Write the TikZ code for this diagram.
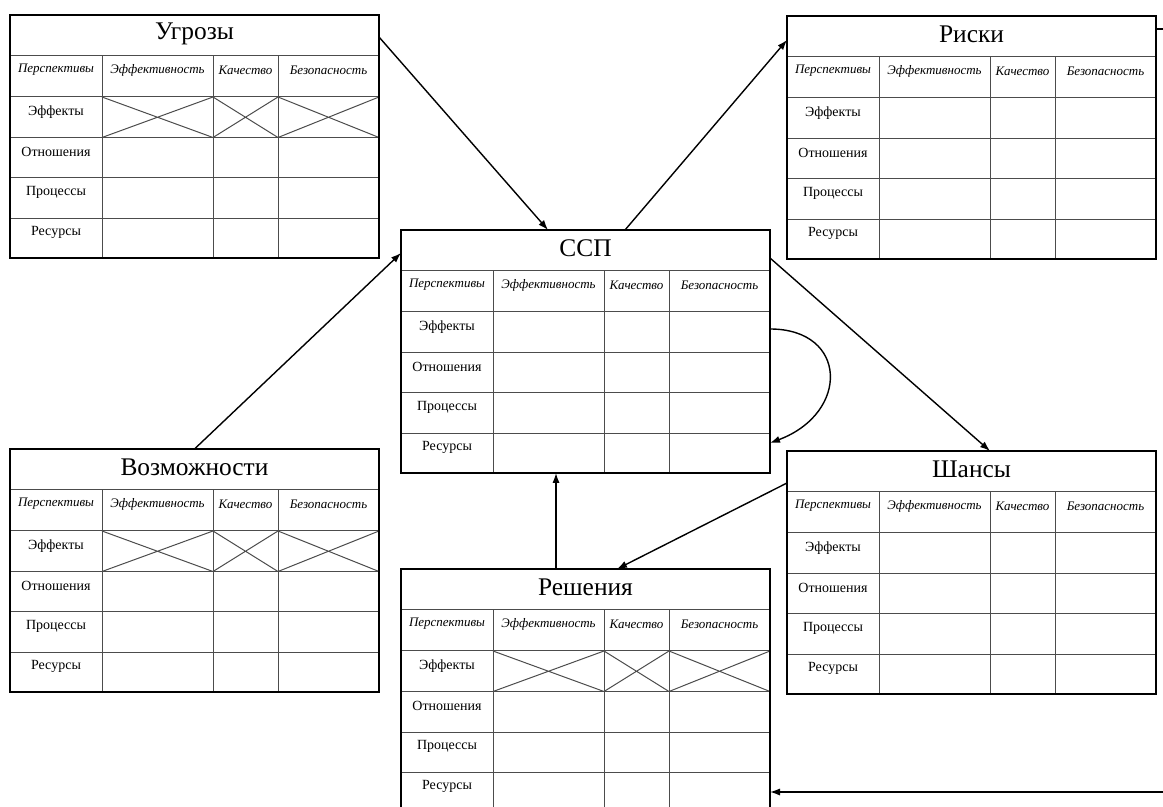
\documentclass[tikz,border=0pt]{standalone}
\usepackage{fontspec}
\setmainfont{Liberation Serif}
\usetikzlibrary{arrows.meta}

% one table: #1 name, #2 top left corner, #3 title, #4 crossed first row (1/0)
\newcommand{\bsctable}[4]{%
  \begin{scope}[shift={(#2)}]
    \node[tbl] (#1) at (0,0) {};
    \node[ttl] (#1-title) at (184.5,18.5) {#3};
    \foreach \y in {41,82,122.5,163,203.5} \draw[grid] (0,\y) -- (369,\y);
    \foreach \x in {92,203,268} \draw[grid] (\x,41) -- (\x,243);
    \foreach \x/\txt [count=\i] in {46/Перспективы,147.5/Эффективность,235.5/Качество,318.5/Безопасность}
      \node[hdr] (#1-h\i) at (\x,55) {\txt};
    \foreach \y/\txt [count=\i] in {97/Эффекты,137/Отношения,177/Процессы,217/Ресурсы}
      \node[lbl] (#1-r\i) at (46,\y) {\txt};
    \ifnum#4=1
      \foreach \a/\b in {92/203,203/268,268/369}
        \draw[grid] (\a,82) -- (\b,122.5) (\a,122.5) -- (\b,82);
    \fi
    \draw[line width=1pt] (#1.north west) rectangle (#1.south east);
  \end{scope}}

\begin{document}
\begin{tikzpicture}[x=0.5pt, y=-0.5pt, >={Latex[length=5pt,width=3.6pt]},
  tbl/.style={anchor=north west, minimum width=184.5pt, minimum height=121.5pt, inner sep=0pt, outer sep=0pt},
  ttl/.style={inner sep=0pt, font=\fontsize{12.7}{15}\selectfont},
  hdr/.style={inner sep=0pt, font=\fontsize{6.5}{8}\selectfont\itshape},
  lbl/.style={inner sep=0pt, font=\fontsize{7}{8.5}\selectfont},
  grid/.style={line width=0.5pt, black!70},
  link/.style={->, line width=0.7pt}]

  \useasboundingbox (0,0) rectangle (1163,807);

  % Tables
  \bsctable{ugrozy}{10,15}{Угрозы}{1}
  \bsctable{riski}{787,16}{Риски}{0}
  \bsctable{ssp}{401,230}{ССП}{0}
  \bsctable{vozm}{10,449}{Возможности}{1}
  \bsctable{shansy}{787,451}{Шансы}{0}
  \bsctable{resh}{401,569}{Решения}{1}

  % Connectors
  \draw[link] ([yshift=-11pt]ugrozy.north east) -- ([xshift=73.5pt]ssp.north west);
  \draw[link] ([xshift=112pt]ssp.north west) -- ([yshift=-12pt]riski.north west);
  \draw[link] (vozm.north) -- ([yshift=-11.5pt]ssp.north west);
  \draw[link] ([yshift=-14pt]ssp.north east) -- ([xshift=101.5pt]shansy.north west);
  \draw[link] ([yshift=-49.5pt]ssp.north east) .. controls +(78,0) and +(80,-30) .. ([yshift=-106.5pt]ssp.north east);
  \draw[link] ([xshift=77.5pt]resh.north west) -- ([xshift=77.5pt]ssp.south west);
  \draw[link] ([yshift=-16pt]shansy.north west) -- ([xshift=108pt]resh.north west);
  \draw[link] ([yshift=-6.5pt]riski.north east) -- ++(30,0) |- ([yshift=-111.5pt]resh.north east);

\end{tikzpicture}
\end{document}
